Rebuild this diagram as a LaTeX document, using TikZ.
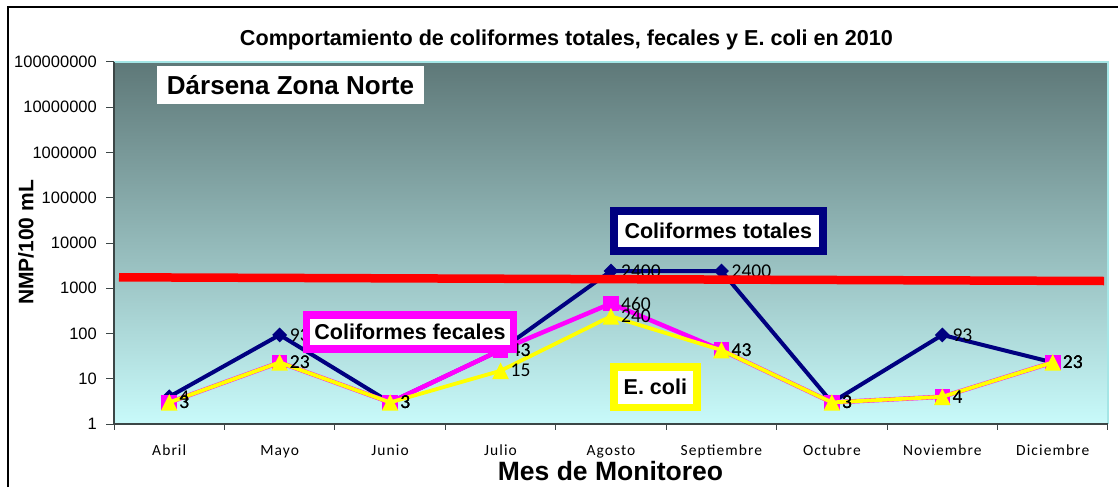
\documentclass[tikz,border=0pt]{standalone}
\usepackage{fontspec}
\setmainfont{Liberation Sans}
\newfontfamily\calfont{Carlito}
\newfontfamily\monthfont[LetterSpace=7]{Carlito}
\usetikzlibrary{shapes.geometric}
\definecolor{serT}{HTML}{000080}
\definecolor{serF}{HTML}{FF00FF}
\definecolor{serE}{HTML}{FFFF00}
\definecolor{axisgray}{HTML}{3C4646}
\definecolor{edgecyan}{HTML}{A4E6E6}
\begin{document}
\begin{tikzpicture}[x=1pt,y=-1pt,
  outerframe/.style={line width=2pt, black},
  axisline/.style={line width=1.6pt, axisgray},
  tickline/.style={line width=1pt, axisgray},
  ylab/.style={anchor=east, inner sep=0pt, font=\fontsize{16.5}{18}\selectfont},
  mlab/.style={anchor=base, inner sep=0pt, font=\monthfont\fontsize{15.5}{18}\selectfont},
  dlab/.style={anchor=west, inner sep=0pt, xshift=10pt, font=\calfont\fontsize{19.5}{22}\selectfont},
  lineT/.style={serT, line width=4pt, line join=round},
  lineF/.style={serF, line width=4.5pt, line join=round},
  lineE/.style={serE, line width=3.8pt, line join=round},
  mkT/.style={diamond, fill=serT, inner sep=0pt, minimum width=15pt, minimum height=15pt},
  mkF/.style={rectangle, fill=serF, inner sep=0pt, minimum size=15.5pt},
  boxlab/.style={fill=white, line width=7.5pt, inner sep=0pt, font=\bfseries\fontsize{21.5}{24}\selectfont}
]
\useasboundingbox (0,0) rectangle (1118,487);
% outer frame
\coordinate (fb) at (8,487);
\coordinate (ftl) at (8,7);
\coordinate (fr) at (1118,7);
\draw[outerframe] (fb) -- (ftl) -- (fr);
% title
\node[anchor=base, inner sep=0pt, font=\bfseries\fontsize{21.6}{24}\selectfont] (title) at (566.5,46)
  {Comportamiento de coliformes totales, fecales y E. coli en 2010};
% plot area
\coordinate (pTL) at (114,62);
\coordinate (pBR) at (1108,424);
\shade[top color={rgb,255:red,94;green,120;blue,120}, bottom color={rgb,255:red,200;green,250;blue,250}] (pTL) rectangle (pBR);
\coordinate (pTR) at (1108,62);
\coordinate (pBL) at (114,424);
\draw[edgecyan, line width=1.2pt] (pTL) -- (pTR) -- (pBR);
% y axis
\draw[axisline] (pTL) -- (pBL);
\foreach \k/\lab in {0/1,1/10,2/100,3/1000,4/10000,5/100000,6/1000000,7/10000000,8/100000000}{
  \coordinate (yt\k) at (106,{424-45.25*\k});
  \coordinate (ya\k) at (114,{424-45.25*\k});
  \draw[tickline] (yt\k) -- (ya\k);
  \node[ylab] (yl\k) at (97,{424-45.25*\k}) {\lab};
}
% x axis
\draw[axisline, line width=2pt] (pBL) -- (pBR);
\foreach \k in {0,...,9}{
  \coordinate (xa\k) at ({114+110.44*\k},424);
  \coordinate (xt\k) at ({114+110.44*\k},430);
  \draw[tickline] (xa\k) -- (xt\k);
}
\foreach \i/\m in {1/Abril,2/Mayo,3/Junio,4/Julio,5/Agosto,6/Septiembre,7/Octubre,8/Noviembre,9/Diciembre}{
  \node[mlab] (m\i) at ({58.78+110.44*\i},455) {\m};
}
\node[rotate=90, anchor=base, inner sep=0pt, font=\bfseries\fontsize{21}{24}\selectfont] (ytitle) at (33.3,242.5) {NMP/100 mL};
\node[anchor=base, inner sep=0pt, font=\bfseries\fontsize{26.5}{30}\selectfont] (xtitle) at (610.5,480) {Mes de Monitoreo};
% data points
\foreach \i/\t/\f/\e in {1/4/3/3, 2/93/23/23, 3/3/3/3, 4/43/43/15, 5/2400/460/240, 6/2400/43/43, 7/3/3/3, 8/93/4/4, 9/23/23/23}{
  \coordinate (T\i) at ({58.78+110.44*\i},{424-45.25*log10(\t)});
  \coordinate (F\i) at ({58.78+110.44*\i},{424-45.25*log10(\f)});
  \coordinate (E\i) at ({58.78+110.44*\i},{424-45.25*log10(\e)});
}
% series: totales
\draw[lineT] (T1) \foreach \i in {2,...,9}{ -- (T\i)};
\foreach \i in {1,...,9}{ \node[mkT] (mT\i) at (T\i) {}; }
% series: fecales
\draw[lineF] (F1) \foreach \i in {2,...,9}{ -- (F\i)};
\foreach \i in {1,...,9}{ \node[mkF] (mF\i) at (F\i) {}; }
% series: E. coli
\draw[lineE] (E1) \foreach \i in {2,...,9}{ -- (E\i)};
\foreach \i in {1,...,9}{ \fill[serE] (E\i) ++(-8.3,8.3) -- ++(16.6,0) -- ++(-8.3,-16.6) -- cycle; }
% data labels
\foreach \i/\t/\f/\e in {1/4/3/3, 2/93/23/23, 3/3/3/3, 4/43/43/15, 5/2400/460/240, 6/2400/43/43, 7/3/3/3, 8/93/4/4, 9/23/23/23}{
  \node[dlab] (lT\i) at (T\i) {\t};
  \node[dlab] (lF\i) at (F\i) {\f};
  \node[dlab] (lE\i) at (E\i) {\e};
}
% red limit line
\coordinate (r1) at (119,277.3);
\coordinate (r2) at (1104,281);
\draw[red, line width=8.5pt] (r1) -- (r2);
% boxes
\node[fill=white, inner sep=0pt, minimum width=267pt, minimum height=38.3pt, font=\bfseries\fontsize{26}{30}\selectfont] (zona) at (290.5,85.15) {Dársena Zona Norte};
\node[boxlab, draw=serT, minimum width=209pt, minimum height=40.2pt] (btot) at (718.3,231.1) {Coliformes totales};
\node[boxlab, draw=serF, minimum width=206.6pt, minimum height=34.2pt] (bfec) at (410,331.9) {Coliformes fecales};
\node[boxlab, draw=serE, minimum width=83.2pt, minimum height=40.2pt] (bcoli) at (655.35,387.15) {E. coli};
\end{tikzpicture}
\end{document}
